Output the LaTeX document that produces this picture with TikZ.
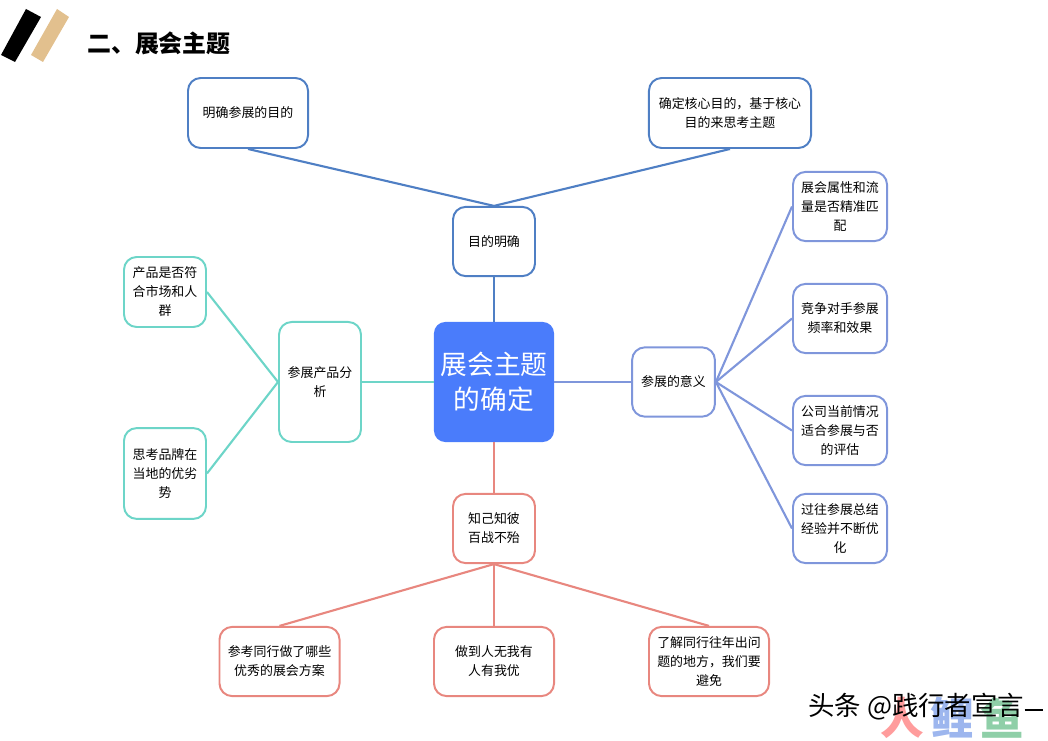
\documentclass[tikz,border=0pt]{standalone}
\usepackage{fontspec}
\setmainfont{Noto Sans CJK SC}
\definecolor{goalblue}{HTML}{4F7FC4}
\definecolor{meanblue}{HTML}{7F96DB}
\definecolor{prodteal}{HTML}{6DD5C8}
\definecolor{peerred}{HTML}{E8877F}
\definecolor{rootblue}{HTML}{4A7CFB}
\definecolor{tanbar}{HTML}{E2C08E}
\definecolor{markred}{HTML}{FF9C9C}
\definecolor{markblue}{HTML}{9DB6EE}
\definecolor{markgreen}{HTML}{8FCFA8}
\tikzset{
  topicbox/.style={draw, line width=1.4pt, rounded corners=9pt, fill=white, align=center, inner sep=0pt, font=\fontsize{9.2}{13.5}\selectfont},
  markchar/.style={inner sep=0pt, font=\fontsize{31}{31}\selectfont\bfseries},
}
\begin{document}
\begin{tikzpicture}[x=0.025cm, y=-0.025cm]
\useasboundingbox (0,0) rectangle (1048,741);
% title
\fill[black] (26,9) -- (41,17) -- (15,62) -- (1,55) -- cycle;
\fill[tanbar] (57,9) -- (69,17) -- (43,62) -- (31,55) -- cycle;
\node[anchor=west, inner sep=0pt, font=\fontsize{17}{20}\selectfont\bfseries] (title) at (87,43) {二、展会主题};
% centre
\node[fill=rootblue, text=white, rounded corners=8pt, align=center, inner sep=0pt, minimum width=3cm, minimum height=3cm, font=\fontsize{19}{25}\selectfont] (root) at (494,382) {展会主题\\的确定};
% top
\node[topicbox, draw=goalblue, minimum width=2.05cm, minimum height=1.73cm] (goal) at (494,241.5) {目的明确};
\node[topicbox, draw=goalblue, minimum width=3cm, minimum height=1.75cm] (goalA) at (248,113) {明确参展的目的};
\node[topicbox, draw=goalblue, minimum width=4.05cm, minimum height=1.75cm] (goalB) at (730,113) {确定核心目的，基于核心\\目的来思考主题};
% right
\node[topicbox, draw=meanblue, minimum width=2.07cm, minimum height=1.73cm] (mean) at (673.5,382) {参展的意义};
\node[topicbox, draw=meanblue, minimum width=2.35cm, minimum height=1.73cm] (meanA) at (840,206.5) {展会属性和流\\量是否精准匹\\配};
\node[topicbox, draw=meanblue, minimum width=2.35cm, minimum height=1.73cm] (meanB) at (840,318.5) {竞争对手参展\\频率和效果};
\node[topicbox, draw=meanblue, minimum width=2.35cm, minimum height=1.73cm] (meanC) at (840,430.5) {公司当前情况\\适合参展与否\\的评估};
\node[topicbox, draw=meanblue, minimum width=2.35cm, minimum height=1.73cm] (meanD) at (840,528.5) {过往参展总结\\经验并不断优\\化};
% left
\node[topicbox, draw=prodteal, minimum width=2.05cm, minimum height=3cm] (prod) at (320,382) {参展产品分\\析};
\node[topicbox, draw=prodteal, minimum width=2.05cm, minimum height=1.75cm] (prodA) at (165,292) {产品是否符\\合市场和人\\群};
\node[topicbox, draw=prodteal, minimum width=2.05cm, minimum height=2.27cm] (prodB) at (165,473.5) {思考品牌在\\当地的优劣\\势};
% bottom
\node[topicbox, draw=peerred, minimum width=2.05cm, minimum height=1.73cm] (peer) at (494,528.5) {知己知彼\\百战不殆};
\node[topicbox, draw=peerred, minimum width=3cm, minimum height=1.73cm] (peerA) at (279.5,661.5) {参考同行做了哪些\\优秀的展会方案};
\node[topicbox, draw=peerred, minimum width=3cm, minimum height=1.73cm] (peerB) at (494,661.5) {做到人无我有\\人有我优};
\node[topicbox, draw=peerred, minimum width=3cm, minimum height=1.73cm] (peerC) at (709,661.5) {了解同行往年出问\\题的地方，我们要\\避免};
% links
\draw[goalblue, line width=1.5pt] (root.north) -- (goal.south);
\draw[goalblue, line width=1.5pt] (goalA.south) -- (goal.north);
\draw[goalblue, line width=1.5pt] (goalB.south) -- (goal.north);
\draw[meanblue, line width=1.5pt] (root.east) -- (mean.west);
\draw[meanblue, line width=1.5pt] (mean.east) -- (meanA.west);
\draw[meanblue, line width=1.5pt] (mean.east) -- (meanB.west);
\draw[meanblue, line width=1.5pt] (mean.east) -- (meanC.west);
\draw[meanblue, line width=1.5pt] (mean.east) -- (meanD.west);
\draw[prodteal, line width=1.5pt] (root.west) -- (prod.east);
\draw[prodteal, line width=1.5pt] (prod.west) -- (prodA.east);
\draw[prodteal, line width=1.5pt] (prod.west) -- (prodB.east);
\draw[peerred, line width=1.5pt] (root.south) -- (peer.north);
\draw[peerred, line width=1.5pt] (peer.south) -- (peerA.north);
\draw[peerred, line width=1.5pt] (peer.south) -- (peerB.north);
\draw[peerred, line width=1.5pt] (peer.south) -- (peerC.north);
% watermark
\node[markchar, text=markred] (markA) at (902,718) {人};
\node[markchar, text=markblue] (markB) at (952,718) {鲤};
\node[markchar, text=markgreen] (markC) at (1002,718) {鱼};
\node[anchor=west, inner sep=0pt, font=\fontsize{18.8}{22}\selectfont] (credit) at (808,707) {头条 @践行者宣言};
\coordinate (creditend) at (1043,710);
\draw[line width=0.8pt] (creditend -| credit.east) -- (creditend);
\end{tikzpicture}
\end{document}
